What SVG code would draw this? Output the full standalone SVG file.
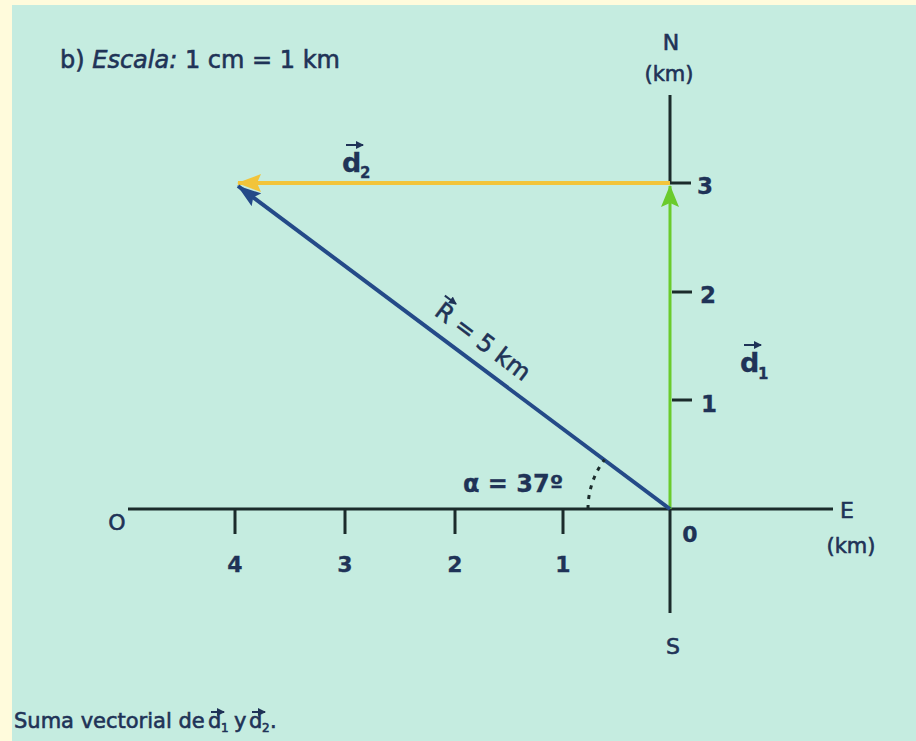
<svg xmlns="http://www.w3.org/2000/svg" width="916" height="741" viewBox="0 0 916 741">
  <style>
    .lbl { font-family: "DejaVu Sans", "Liberation Sans", sans-serif; fill: #1f3357; stroke: #1f3357; stroke-width: 0.6; }
    .b { font-weight: bold; stroke-width: 0.3; }
    .axis { stroke: #1b2b2b; stroke-width: 3; fill: none; }
    .tick { stroke: #1b2b2b; stroke-width: 3; }
    .vec { stroke: #1f3357; stroke-width: 2; fill: none; }
  </style>
  <defs>
    <marker id="headY" viewBox="0 0 24 18" markerWidth="24" markerHeight="18" refX="23" refY="9" orient="auto" markerUnits="userSpaceOnUse">
      <path d="M0,0 L24,9 L0,18 L4,9 z" fill="#f2c43a"/>
    </marker>
    <marker id="headG" viewBox="0 0 22 18" markerWidth="22" markerHeight="18" refX="21" refY="9" orient="auto" markerUnits="userSpaceOnUse">
      <path d="M0,0 L22,9 L0,18 L4,9 z" fill="#6acb2c"/>
    </marker>
    <marker id="headB" viewBox="0 0 24 16" markerWidth="24" markerHeight="16" refX="23" refY="8" orient="auto" markerUnits="userSpaceOnUse">
      <path d="M0,0 L24,8 L0,16 L4,8 z" fill="#244a88"/>
    </marker>
    <marker id="headS" viewBox="0 0 8 8" markerWidth="8" markerHeight="8" refX="7" refY="4" orient="auto" markerUnits="userSpaceOnUse">
      <path d="M0,0 L8,4 L0,8 z" fill="#1f3357"/>
    </marker>
  </defs>

  <!-- background -->
  <rect x="0" y="0" width="916" height="741" fill="#fffbdc"/>
  <rect x="12" y="5" width="904" height="736" fill="#c5ece0"/>

  <!-- title -->
  <text id="title" class="lbl" x="60" y="68" font-size="24">b) <tspan font-style="italic">Escala:</tspan> 1 cm = 1 km</text>

  <!-- axes -->
  <g id="axes">
    <line class="axis" x1="128" y1="509" x2="833" y2="509"/>
    <line class="axis" x1="670" y1="95" x2="670" y2="183"/>
    <line class="axis" x1="670" y1="509" x2="670" y2="613"/>
    <line class="tick" x1="235" y1="509" x2="235" y2="534"/>
    <line class="tick" x1="345" y1="509" x2="345" y2="534"/>
    <line class="tick" x1="455" y1="509" x2="455" y2="534"/>
    <line class="tick" x1="563" y1="509" x2="563" y2="534"/>
    <line class="tick" x1="669" y1="183" x2="691" y2="183"/>
    <line class="tick" x1="672" y1="292" x2="692" y2="292"/>
    <line class="tick" x1="672" y1="400" x2="692" y2="400"/>
  </g>

  <g id="axis-labels">
    <text class="lbl" x="117" y="530" font-size="22" text-anchor="middle">O</text>
    <text class="lbl" x="847" y="518" font-size="22" text-anchor="middle">E</text>
    <text class="lbl" x="851" y="553" font-size="21" text-anchor="middle">(km)</text>
    <text class="lbl" x="671" y="50" font-size="22" text-anchor="middle">N</text>
    <text class="lbl" x="669" y="81" font-size="21" text-anchor="middle">(km)</text>
    <text class="lbl" x="673" y="654" font-size="22" text-anchor="middle">S</text>
    <text class="lbl b" x="690" y="542" font-size="22" text-anchor="middle">0</text>
    <text class="lbl b" x="235" y="572" font-size="22" text-anchor="middle">4</text>
    <text class="lbl b" x="345" y="572" font-size="22" text-anchor="middle">3</text>
    <text class="lbl b" x="455" y="572" font-size="22" text-anchor="middle">2</text>
    <text class="lbl b" x="563" y="572" font-size="22" text-anchor="middle">1</text>
    <text class="lbl b" x="697" y="194" font-size="23">3</text>
    <text class="lbl b" x="700" y="303" font-size="23">2</text>
    <text class="lbl b" x="701" y="412" font-size="23">1</text>
  </g>

  <!-- vectors -->
  <g id="connectors">
    <line id="d1" x1="670" y1="509" x2="670" y2="186" stroke="#6acb2c" stroke-width="3" marker-end="url(#headG)"/>
    <line id="d2" x1="670" y1="183" x2="238" y2="183" stroke="#f2c43a" stroke-width="4" marker-end="url(#headY)"/>
    <line id="R" x1="670" y1="509" x2="238" y2="186" stroke="#244a88" stroke-width="4" marker-end="url(#headB)"/>
    <path id="angle-arc" d="M588,509 A82,82 0 0 1 604.5,459.6" fill="none" stroke="#1b2b2b" stroke-width="3" stroke-dasharray="4 6"/>
  </g>

  <!-- vector labels -->
  <g id="label-d2">
    <text class="lbl b" x="342" y="172" font-size="27">d</text>
    <text class="lbl b" x="360" y="178" font-size="15">2</text>
    <line class="vec" x1="346" y1="145" x2="363" y2="145" marker-end="url(#headS)"/>
  </g>
  <g id="label-d1">
    <text class="lbl b" x="740" y="372" font-size="27">d</text>
    <text class="lbl b" x="758" y="379" font-size="15">1</text>
    <line class="vec" x1="744" y1="345" x2="761" y2="345" marker-end="url(#headS)"/>
  </g>
  <g id="label-R" transform="translate(478,348) rotate(36.9)">
    <text class="lbl" x="0" y="0" font-size="24" text-anchor="middle">R = 5 km</text>
    <line class="vec" x1="-58" y1="-22" x2="-44" y2="-22" marker-end="url(#headS)"/>
  </g>
  <text id="label-alpha" class="lbl b" x="463" y="492" font-size="24">α = 37º</text>

  <!-- caption -->
  <g id="caption">
    <text class="lbl" x="14" y="728" font-size="21">Suma vectorial de</text>
    <text class="lbl" x="208" y="728" font-size="21">d</text>
    <text class="lbl" x="221" y="732" font-size="12">1</text>
    <line class="vec" x1="211" y1="712" x2="224" y2="712" stroke-width="1.6" marker-end="url(#headS)"/>
    <text class="lbl" x="234" y="728" font-size="21">y</text>
    <text class="lbl" x="249" y="728" font-size="21">d</text>
    <text class="lbl" x="262" y="732" font-size="12">2</text>
    <line class="vec" x1="252" y1="712" x2="265" y2="712" stroke-width="1.6" marker-end="url(#headS)"/>
    <text class="lbl" x="270" y="728" font-size="21">.</text>
  </g>
</svg>
